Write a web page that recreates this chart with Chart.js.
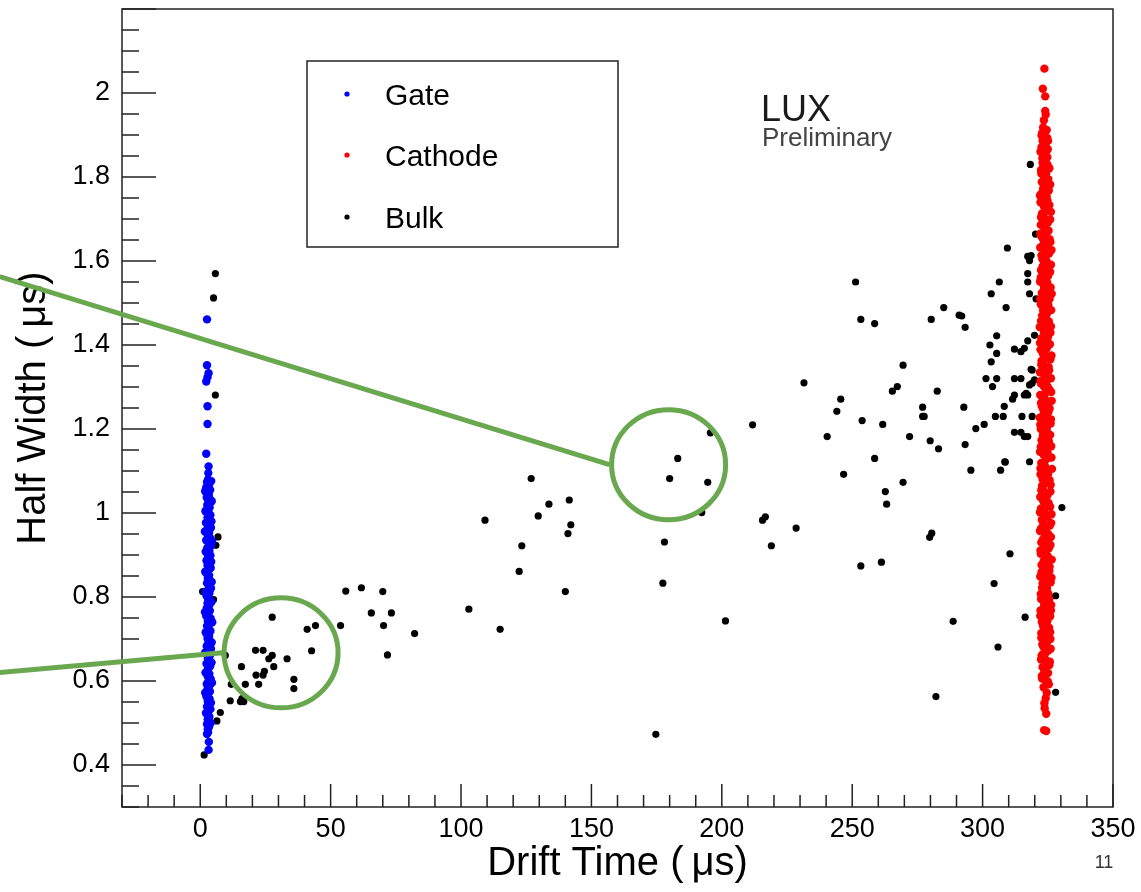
<!DOCTYPE html>
<html>
<head>
<meta charset="utf-8">
<script src="https://cdn.jsdelivr.net/npm/chart.js@4.4.0/dist/chart.umd.min.js"></script>
<style>
  html, body { margin: 0; padding: 0; background: #fff; }
  #wrap { position: relative; width: 1141px; height: 892px; }
</style>
</head>
<body>
<div id="wrap"><canvas id="chart" width="1141" height="892"></canvas></div>
<script>
"use strict";

// Tick labels
const xTickValues = [0, 50, 100, 150, 200, 250, 300, 350];
const yTickValues = [0.4, 0.6, 0.8, 1, 1.2, 1.4, 1.6, 1.8, 2];

// Gate events [drift time (us), half width (us)]
const gatePoints = [
  [3.0,1.080],[2.6,1.074],[3.4,1.068],[2.3,1.061],[3.8,1.055],[2.9,1.049],[3.3,1.043],[2.5,1.037],
  [4.0,1.031],[3.1,1.025],[2.7,1.019],[3.6,1.013],[2.4,1.007],[3.2,1.001],[3.9,0.995],[2.8,0.989],
  [3.5,0.983],[2.2,0.977],[3.0,0.971],[4.1,0.965],[2.6,0.959],[3.4,0.953],[2.9,0.947],[3.7,0.941],
  [2.3,0.935],[3.2,0.929],[4.2,0.923],[2.7,0.917],[3.5,0.911],[2.5,0.905],[3.9,0.899],[3.0,0.893],
  [2.4,0.887],[3.6,0.881],[2.8,0.875],[4.0,0.869],[3.1,0.863],[2.3,0.857],[3.4,0.851],[2.9,0.845],
  [3.8,0.839],[2.6,0.833],[3.3,0.827],[4.1,0.821],[2.7,0.815],[3.5,0.809],[2.4,0.803],[3.0,0.797],
  [3.9,0.791],[2.8,0.785],[3.4,0.779],[2.5,0.773],[3.7,0.767],[3.1,0.761],[2.3,0.755],[4.0,0.749],
  [2.9,0.743],[3.6,0.737],[2.6,0.731],[3.2,0.725],[3.9,0.719],[2.4,0.713],[3.4,0.707],[2.8,0.701],
  [3.7,0.695],[3.0,0.689],[2.5,0.683],[4.1,0.677],[3.3,0.671],[2.7,0.665],[3.6,0.659],[2.9,0.653],
  [3.2,0.647],[2.4,0.641],[3.8,0.635],[3.0,0.629],[2.6,0.623],[3.5,0.617],[2.9,0.611],[4.0,0.605],
  [3.1,0.599],[2.5,0.593],[3.4,0.587],[2.8,0.581],[3.7,0.575],[3.0,0.569],[2.4,0.563],[3.6,0.557],
  [2.9,0.551],[3.3,0.545],[2.6,0.539],[3.9,0.533],[3.1,0.527],[2.7,0.521],[3.5,0.515],[2.9,0.509],
  [3.2,0.503],[2.6,0.497],[3.4,0.491],[2.9,0.485],[3.0,0.478],
  [4.2,1.076],[1.9,1.052],[4.4,1.028],[2.0,1.004],[4.3,0.980],[1.8,0.956],[4.5,0.932],[2.1,0.908],
  [4.2,0.884],[1.9,0.860],[4.4,0.836],[2.0,0.812],[4.3,0.788],[1.8,0.764],[4.6,0.740],[2.1,0.716],
  [4.4,0.692],[1.9,0.668],[4.2,0.644],[2.0,0.620],[4.5,0.596],[1.9,0.572],[4.1,0.548],[2.2,0.524],
  [4.0,0.500],
  [2.6,0.474],[3.3,0.455],[3.2,0.436],[3.1,1.095],[3.2,1.111],[2.3,1.141],[2.8,1.212],[2.8,1.254],
  [2.3,1.313],[2.8,1.323],[3.2,1.333],[2.6,1.352],[2.6,1.461]
];

// Cathode events [drift time (us), half width (us)]
const cathodePoints = [
  [323.7,2.058],[323.1,2.010],[324.0,1.992],[324.0,1.957],[324.2,1.949],[323.5,1.935],
  [323.2,1.918],[324.6,1.912],[322.8,1.905],[323.9,1.899],[324.8,1.893],[323.0,1.886],[324.1,1.878],
  [322.6,1.871],[325.0,1.866],[323.5,1.858],[324.3,1.851],[322.9,1.845],[323.8,1.838],[324.9,1.829],
  [323.1,1.822],[322.4,1.816],[324.4,1.809],[323.6,1.801],[325.2,1.795],[322.7,1.788],[324.0,1.781],
  [323.3,1.774],[325.4,1.768],[322.5,1.760],[324.6,1.753],[323.7,1.747],[322.2,1.740],[325.6,1.733],
  [323.9,1.726],[324.8,1.720],[322.8,1.713],[323.4,1.706],[325.9,1.699],[324.2,1.692],[322.3,1.686],
  [323.6,1.679],[325.3,1.672],[324.4,1.665],[322.6,1.658],[323.2,1.652],[326.0,1.645],[324.7,1.639],
  [322.1,1.632],[323.8,1.625],[325.5,1.618],[324.1,1.611],[322.9,1.605],[323.5,1.598],[326.2,1.591],
  [324.9,1.584],[322.4,1.578],[323.7,1.571],[325.1,1.564],[324.3,1.558],[322.0,1.551],[323.3,1.544],
  [326.1,1.537],[324.6,1.531],[322.7,1.524],[323.9,1.517],[325.7,1.510],[324.0,1.504],[322.3,1.497],
  [323.6,1.490],[326.3,1.483],[324.8,1.477],[322.8,1.470],[323.4,1.463],[325.4,1.456],[324.2,1.450],
  [321.9,1.443],[323.8,1.436],[326.0,1.429],[324.5,1.423],[322.5,1.416],[323.1,1.409],[325.8,1.402],
  [324.4,1.396],[322.2,1.389],[323.7,1.382],[326.4,1.375],[324.9,1.369],[322.6,1.362],[323.3,1.355],
  [325.3,1.348],[324.1,1.342],[322.0,1.335],[323.9,1.328],[326.2,1.321],[324.6,1.315],[322.4,1.308],
  [323.5,1.301],[325.6,1.294],[324.3,1.288],[322.1,1.281],[323.8,1.274],[326.5,1.267],[324.7,1.261],
  [322.7,1.254],[323.2,1.247],[325.2,1.240],[324.0,1.234],[321.9,1.227],[323.6,1.220],[326.1,1.213],
  [324.8,1.207],[322.3,1.200],[323.4,1.193],[325.9,1.186],[324.2,1.180],[322.6,1.173],[323.7,1.166],
  [326.3,1.159],[324.5,1.153],[322.0,1.146],[323.3,1.139],[325.5,1.132],[324.1,1.126],[322.5,1.119],
  [323.9,1.112],[326.6,1.105],[324.7,1.099],[322.2,1.092],[323.5,1.085],[325.7,1.078],[324.3,1.072],
  [322.8,1.065],[323.1,1.058],[326.0,1.051],[324.6,1.045],[322.1,1.038],[323.8,1.031],[325.3,1.024],
  [324.0,1.018],[322.4,1.011],[323.6,1.004],[326.4,0.997],[324.9,0.991],[322.7,0.984],[323.2,0.977],
  [325.8,0.970],[324.4,0.964],[322.0,0.957],[323.7,0.950],[326.2,0.943],[324.5,0.937],[322.5,0.930],
  [323.4,0.923],[325.4,0.916],[324.1,0.910],[322.3,0.903],[323.9,0.896],[326.5,0.889],[324.7,0.883],
  [322.6,0.876],[323.3,0.869],[325.6,0.862],[324.2,0.856],[322.1,0.849],[323.6,0.842],[326.1,0.835],
  [324.8,0.829],[322.8,0.822],[323.2,0.815],[325.2,0.808],[324.0,0.802],[322.4,0.795],[323.8,0.788],
  [326.3,0.781],[324.6,0.775],[322.2,0.768],[323.5,0.761],[325.9,0.754],[324.3,0.748],[322.7,0.741],
  [323.1,0.734],[325.5,0.727],[324.1,0.721],[322.5,0.714],[323.7,0.707],[326.0,0.700],[324.8,0.694],
  [322.9,0.687],[323.4,0.680],[325.3,0.673],[324.2,0.667],[322.6,0.660],[323.9,0.653],[325.8,0.646],
  [324.5,0.640],[323.0,0.633],[323.6,0.626],[325.1,0.619],[324.0,0.613],[322.8,0.606],[324.4,0.599],
  [325.4,0.592],[323.4,0.585],
  [323.9,1.912],[322.6,1.899],[325.1,1.886],[323.4,1.873],[322.2,1.860],[324.8,1.847],[323.0,1.834],
  [325.6,1.821],[322.5,1.808],[324.1,1.795],[325.9,1.782],[323.2,1.769],[322.0,1.756],[324.9,1.743],
  [323.5,1.730],[326.2,1.717],[322.4,1.704],[325.0,1.691],[323.8,1.678],[322.1,1.665],[325.7,1.652],
  [323.3,1.639],[326.4,1.626],[322.6,1.613],[324.5,1.600],[323.0,1.587],[325.9,1.574],[322.3,1.561],
  [324.8,1.548],[323.6,1.535],[326.5,1.522],[322.1,1.509],[325.2,1.496],[323.2,1.483],[324.4,1.470],
  [322.4,1.457],[326.2,1.444],[323.5,1.431],[325.0,1.418],[322.0,1.405],[324.6,1.392],[323.1,1.379],
  [326.0,1.366],[322.5,1.353],[325.5,1.340],[323.7,1.327],[322.2,1.314],[324.9,1.301],[326.3,1.288],
  [323.0,1.275],[322.4,1.262],[325.7,1.249],[323.4,1.236],[326.2,1.223],[322.1,1.210],[324.6,1.197],
  [323.1,1.184],[325.4,1.171],[322.3,1.158],[324.9,1.145],[326.4,1.132],[323.5,1.119],[322.2,1.106],
  [325.1,1.093],[323.0,1.080],[326.1,1.067],[322.5,1.054],[324.8,1.041],[323.3,1.028],[325.9,1.015],
  [322.0,1.002],[323.6,0.989],[326.3,0.976],[322.4,0.963],[325.2,0.950],[323.1,0.937],[326.0,0.924],
  [322.2,0.911],[324.9,0.898],[323.4,0.885],[325.7,0.872],[322.6,0.859],[326.4,0.846],[323.0,0.833],
  [324.7,0.820],[322.3,0.807],[325.5,0.794],[323.6,0.781],[326.2,0.768],[322.1,0.755],[324.8,0.742],
  [323.3,0.729],[325.9,0.716],[322.5,0.703],[324.4,0.690],[326.1,0.677],[323.1,0.664],[322.4,0.651],
  [325.6,0.638],[323.8,0.625],[322.7,0.612],[325.0,0.599],
  [324.6,0.572],[324.2,0.559],[323.7,0.547],[323.8,0.535],[324.4,0.522],[323.6,0.483],[324.4,0.481]
];

// Bulk events [drift time (us), half width (us)]
const bulkPoints = [
  [0.9,0.813],[5.1,0.794],[5.8,1.570],[5.1,1.512],[5.8,1.281],[6.8,0.943],[6.0,0.923],[4.5,0.644],
  [9.6,0.661],[11.9,0.592],[15.8,0.634],[17.3,0.592],[11.5,0.553],[16.0,0.558],[16.7,0.551],[15.4,0.551],
  [7.7,0.525],[6.4,0.505],[1.5,0.424],[21.2,0.673],[24.1,0.673],[27.6,0.661],[26.3,0.653],[33.3,0.653],
  [42.7,0.672],[28.2,0.634],[21.4,0.614],[24.1,0.614],[24.6,0.623],[35.9,0.604],[35.9,0.582],[22.4,0.592],
  [27.6,0.752],[41.0,0.723],[44.2,0.732],[53.8,0.732],[55.8,0.814],[61.8,0.822],[65.6,0.762],[70.0,0.813],
  [73.3,0.762],[70.3,0.732],[82.2,0.713],[71.8,0.662],[103.0,0.771],[115.0,0.723],[109.2,0.983],[122.3,0.861],
  [123.3,0.922],[126.9,1.082],[129.6,0.993],[133.7,1.021],[141.5,1.031],[142.1,0.972],[141.0,0.951],[140.0,0.813],
  [174.7,0.473],[177.4,0.833],[178.0,0.931],[180.0,1.082],[183.1,1.130],[194.6,1.073],[195.6,1.191],[192.3,1.001],
  [201.4,0.743],[211.8,1.210],[216.7,0.991],[215.6,0.983],[219.0,0.922],[228.5,0.964],[231.5,1.310],[240.4,1.182],
  [244.1,1.242],[245.6,1.271],[246.7,1.092],[251.3,1.550],[253.3,1.461],[253.8,1.220],[253.3,0.874],[258.6,1.451],
  [258.6,1.130],[261.7,1.211],[261.2,0.883],[262.7,1.051],[263.2,1.021],[265.4,1.290],[267.3,1.301],[269.5,1.352],
  [269.5,1.073],[272.0,1.182],[277.0,1.252],[277.0,1.230],[277.6,1.230],[279.9,1.172],[280.3,1.461],[280.5,0.952],
  [279.7,0.942],[282.1,0.563],[282.6,1.290],[283.1,1.153],[285.1,1.489],[288.7,0.742],[291.0,1.471],[292.0,1.469],
  [292.8,1.252],[293.3,1.442],[293.3,1.163],[295.5,1.102],[297.4,1.201],[300.6,1.211],[301.3,1.320],[302.8,1.400],
  [303.3,1.522],[303.3,1.360],[303.8,1.301],[304.4,0.832],[304.9,1.230],[305.4,1.422],[305.4,1.380],[305.4,1.320],
  [305.9,0.681],[306.4,1.550],[306.9,1.102],[307.9,1.230],[308.3,1.254],[308.5,1.122],[309.0,1.489],[309.5,1.631],
  [310.5,0.903],[311.5,1.271],[312.2,1.390],[312.2,1.320],[312.2,1.281],[312.2,1.192],[314.7,1.384],[314.7,1.320],
  [314.7,1.192],[315.1,1.230],[316.0,1.392],[316.0,1.281],[316.0,1.182],[316.3,0.752],[316.7,1.285],[317.3,1.410],
  [317.3,1.281],[317.3,1.182],[317.3,1.611],[318.0,1.601],[317.3,1.570],[317.3,1.550],[318.0,1.522],[318.6,1.613],
  [318.6,1.342],[318.0,1.305],[318.0,1.122],[318.3,1.830],[319.0,1.340],[319.0,1.309],[319.9,1.317],[319.9,1.423],
  [319.0,1.230],[320.3,1.664],[320.5,1.510],[330.4,1.013],[328.0,0.803],[328.0,0.573],[308.7,1.121]
];

// Green highlight circles (data coords of centre) and leader lines (data coords)
const circleCenters = [[31.0, 0.667], [179.6, 1.115]];
const leaderLines = [
  [[-76.9, 0.620], [8.5, 0.667]],
  [[-76.9, 1.563], [156.9, 1.115]]
];

const FONT = "'Liberation Sans', Arial, Helvetica, sans-serif";
const toXY = p => ({x: p[0], y: p[1]});

// ROOT style frame with ticks on the inside
const framePlugin = {
  id: 'rootFrame',
  afterDatasetsDraw(chart) {
    const ctx = chart.ctx;
    const a = chart.chartArea;
    const sx = chart.scales.x, sy = chart.scales.y;
    ctx.save();
    ctx.strokeStyle = '#222';
    ctx.lineWidth = 1.5;
    ctx.strokeRect(a.left, a.top, a.right - a.left, a.bottom - a.top);
    ctx.beginPath();
    for (let v = -30; v <= 350; v += 10) {
      const px = sx.getPixelForValue(v);
      const len = (v % 50 === 0) ? 23 : 12;
      ctx.moveTo(px, a.bottom);
      ctx.lineTo(px, a.bottom - len);
    }
    for (let i = 6; i <= 44; i++) {
      const v = i * 0.05;
      const py = sy.getPixelForValue(v);
      const len = (i % 4 === 0) ? 34 : 17;
      ctx.moveTo(a.left, py);
      ctx.lineTo(a.left + len, py);
    }
    ctx.stroke();
    ctx.restore();
  }
};

// Green circles and lines over the plot
const annotationPlugin = {
  id: 'greenMarks',
  afterDraw(chart) {
    const ctx = chart.ctx;
    const sx = chart.scales.x, sy = chart.scales.y;
    ctx.save();
    ctx.strokeStyle = '#6aa84f';
    ctx.lineWidth = 5;
    leaderLines.forEach(function(l) {
      ctx.beginPath();
      ctx.moveTo(sx.getPixelForValue(l[0][0]), sy.getPixelForValue(l[0][1]));
      ctx.lineTo(sx.getPixelForValue(l[1][0]), sy.getPixelForValue(l[1][1]));
      ctx.stroke();
    });
    circleCenters.forEach(function(c) {
      ctx.beginPath();
      ctx.ellipse(sx.getPixelForValue(c[0]), sy.getPixelForValue(c[1]), 57, 55, 0, 0, Math.PI * 2);
      ctx.stroke();
    });
    ctx.restore();
  }
};

// Legend box and labels
const legendPlugin = {
  id: 'rootLegend',
  afterDraw(chart) {
    const ctx = chart.ctx;
    ctx.save();
    ctx.fillStyle = '#fff';
    ctx.fillRect(307, 61, 311, 186);
    ctx.strokeStyle = '#222';
    ctx.lineWidth = 1.5;
    ctx.strokeRect(307, 61, 311, 186);
    const rows = [97, 158, 220];
    chart.data.datasets.forEach(function(ds, i) {
      ctx.fillStyle = ds.backgroundColor;
      ctx.beginPath();
      ctx.arc(347, rows[i] - 3, 2.6, 0, Math.PI * 2);
      ctx.fill();
      ctx.fillStyle = '#000';
      ctx.font = '30px ' + FONT;
      ctx.textBaseline = 'middle';
      ctx.textAlign = 'left';
      ctx.fillText(ds.label, 385, rows[i]);
    });
    ctx.textBaseline = 'alphabetic';
    ctx.fillStyle = '#1a1a1a';
    ctx.font = '36px ' + FONT;
    ctx.fillText('LUX', 761, 121);
    ctx.fillStyle = '#444';
    ctx.font = '26px ' + FONT;
    ctx.fillText('Preliminary', 762, 146);
    ctx.fillStyle = '#333';
    ctx.font = '18px ' + FONT;
    ctx.textAlign = 'center';
    ctx.fillText('11', 1104, 868);
    ctx.restore();
  }
};

new Chart(document.getElementById('chart'), {
  type: 'scatter',
  data: {
    datasets: [
      { label: 'Gate', data: gatePoints.map(toXY), backgroundColor: '#0000ff', borderWidth: 0, pointRadius: 4.2, order: 1 },
      { label: 'Cathode', data: cathodePoints.map(toXY), backgroundColor: '#ff0000', borderWidth: 0, pointRadius: 4.2, order: 1 },
      { label: 'Bulk', data: bulkPoints.map(toXY), backgroundColor: '#000000', borderWidth: 0, pointRadius: 3.6, order: 2 }
    ]
  },
  options: {
    responsive: false,
    animation: false,
    devicePixelRatio: 1,
    layout: { padding: { top: 9, right: 28, left: 0, bottom: 0 } },
    plugins: { legend: { display: false }, tooltip: { enabled: false } },
    scales: {
      x: {
        type: 'linear', min: -30, max: 350,
        afterFit: function(s) { s.height = 85; s.paddingLeft = 0; s.paddingRight = 0; },
        afterBuildTicks: function(s) { s.ticks = xTickValues.map(v => ({value: v})); },
        grid: { display: false, drawTicks: false },
        border: { display: false },
        ticks: { padding: 6, color: '#000', autoSkip: false, maxRotation: 0, font: { family: FONT, size: 27 } },
        title: { display: true, text: 'Drift Time (\u2009\u03bcs)', color: '#000', font: { family: FONT, size: 40 }, padding: { top: 0, bottom: 4 } }
      },
      y: {
        type: 'linear', min: 0.3, max: 2.2,
        afterFit: function(s) { s.width = 122; s.paddingTop = 0; s.paddingBottom = 0; },
        afterBuildTicks: function(s) { s.ticks = yTickValues.map(v => ({value: v})); },
        grid: { display: false, drawTicks: false },
        border: { display: false },
        ticks: { padding: 12, color: '#000', autoSkip: false, font: { family: FONT, size: 27 },
                 callback: function(v) { return String(v); } },
        title: { display: true, text: 'Half Width (\u2009\u03bcs)', color: '#000', font: { family: FONT, size: 40 }, padding: { top: 10, bottom: 0 } }
      }
    }
  },
  plugins: [framePlugin, annotationPlugin, legendPlugin]
});
</script>
</body>
</html>
